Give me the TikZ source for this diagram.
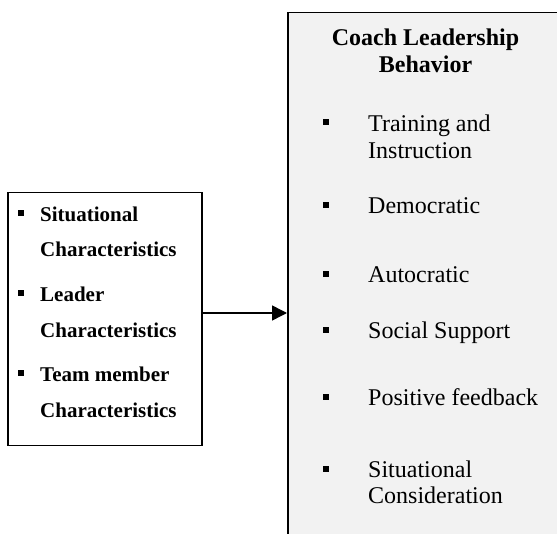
\documentclass[tikz,border=0pt]{standalone}
\usepackage{fontspec}
\setmainfont{Liberation Serif}
\usetikzlibrary{arrows.meta}
\definecolor{boxgray}{HTML}{F2F2F2}
\tikzset{
  frame/.style={draw=black, line width=1.5pt, rectangle, inner sep=0pt, anchor=north west},
  ltext/.style={anchor=base west, inner sep=0pt, font=\fontsize{21}{25}\selectfont\bfseries},
  rtext/.style={anchor=base west, inner sep=0pt, font=\fontsize{24}{28}\selectfont},
  rtitle/.style={anchor=base, inner sep=0pt, font=\fontsize{24}{28}\selectfont\bfseries},
  bul/.style={fill=black, rectangle, inner sep=0pt, minimum size=6pt},
  conn/.style={line width=1.5pt, -{Triangle[length=15pt,width=15pt]}}
}
\begin{document}
\begin{tikzpicture}[x=1pt,y=-1pt]
\useasboundingbox (0,0) rectangle (557,534);
% boxes
\node[frame, fill=boxgray, minimum width=320pt, minimum height=560pt] (rbox) at (287,12) {};
\node[frame, fill=white, minimum width=194pt, minimum height=253pt] (lbox) at (7,192) {};
% left box text
\node[bul] (lb1) at (20.5,213) {};
\node[ltext] (l1a) at (40,222) {Situational};
\node[ltext] (l1b) at (40,257) {Characteristics};
\node[bul] (lb2) at (20.5,293) {};
\node[ltext] (l2a) at (40,302) {Leader};
\node[ltext] (l2b) at (40,338) {Characteristics};
\node[bul] (lb3) at (20.5,373) {};
\node[ltext] (l3a) at (40,382) {Team member};
\node[ltext] (l3b) at (40,418) {Characteristics};
% right box text
\node[rtitle] (t1) at (425.5,46) {Coach Leadership};
\node[rtitle] (t2) at (425.5,73) {Behavior};
\node[bul] (rb1) at (326,122.5) {};
\node[rtext] (r1a) at (368,131.5) {Training and};
\node[rtext] (r1b) at (368,159) {Instruction};
\node[bul] (rb2) at (326,205) {};
\node[rtext] (r2) at (368,214) {Democratic};
\node[bul] (rb3) at (326,274) {};
\node[rtext] (r3) at (368,283) {Autocratic};
\node[bul] (rb4) at (326,330) {};
\node[rtext] (r4) at (368,339) {Social Support};
\node[bul] (rb5) at (326,397) {};
\node[rtext] (r5) at (368,406) {Positive feedback};
\node[bul] (rb6) at (326,469) {};
\node[rtext] (r6a) at (368,478) {Situational};
\node[rtext] (r6b) at (368,503) {Consideration};
% connector
\coordinate (ay) at (0,313);
\draw[conn] (lbox.east |- ay) -- (rbox.west |- ay);
\end{tikzpicture}
\end{document}
